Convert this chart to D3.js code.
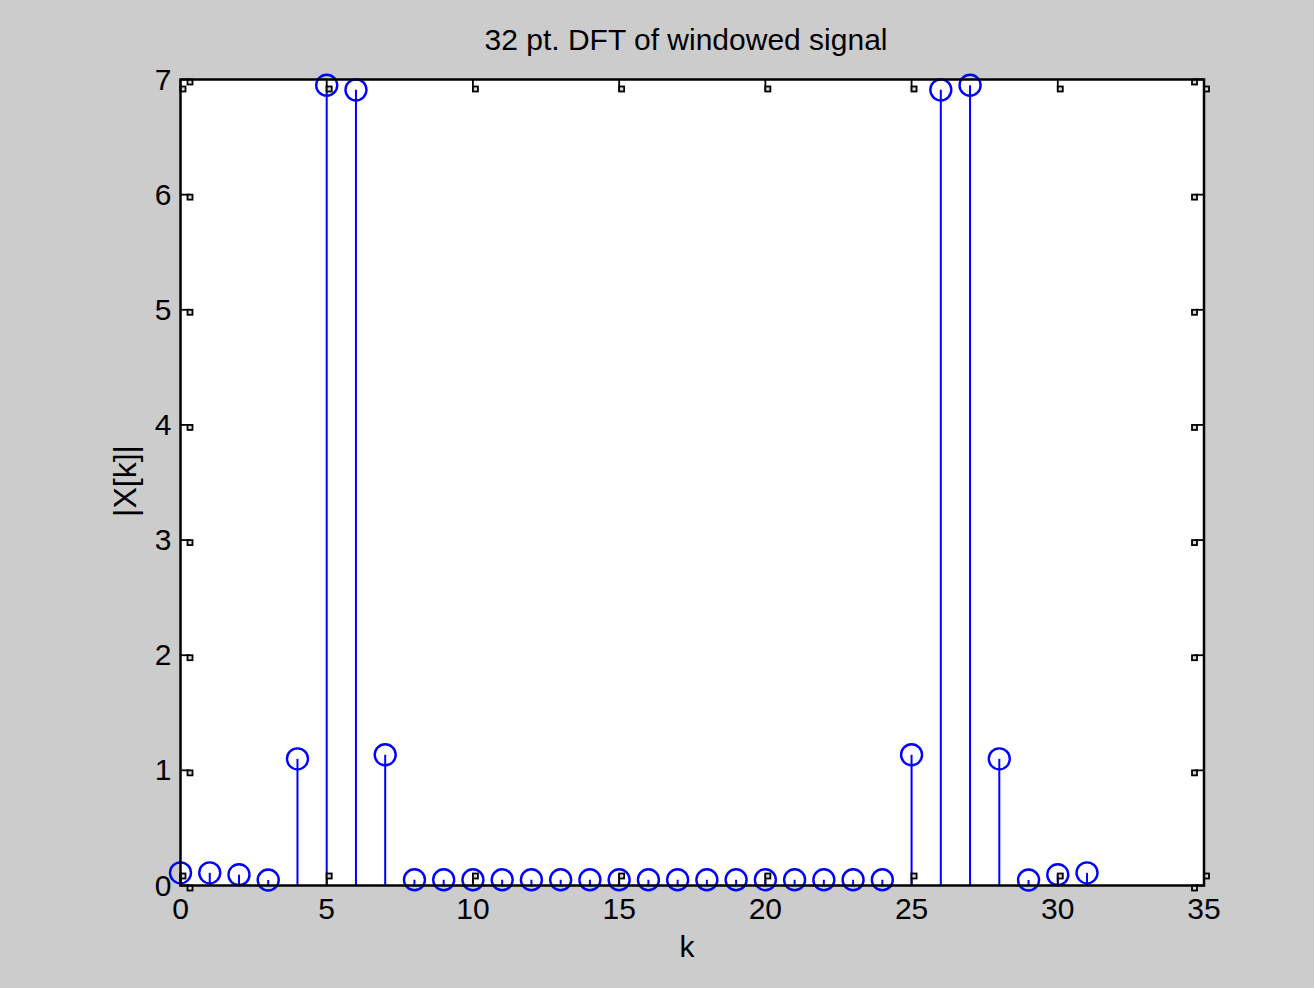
<!DOCTYPE html>
<html>
<head>
<meta charset="utf-8">
<script src="https://cdn.jsdelivr.net/npm/d3@7"></script>
<style>
  html, body { margin: 0; padding: 0; background: #cccccc; }
  svg { display: block; }
  text { font-family: "Liberation Sans", Arial, sans-serif; fill: #000; }
</style>
</head>
<body>
<svg id="chart" width="1314" height="988"></svg>
<script>
// Magnitude of the 32-point DFT of the windowed signal
const k = d3.range(0, 32);
const magnitude = [
  0.11, 0.11, 0.094, 0.048, 1.10, 6.95, 6.91, 1.135,
  0.05, 0.05, 0.05, 0.05, 0.05, 0.05, 0.05, 0.05,
  0.05, 0.05, 0.05, 0.05, 0.05, 0.05, 0.05, 0.05,
  0.05, 1.135, 6.91, 6.95, 1.10, 0.048, 0.094, 0.11
];
const xTicks = [0, 5, 10, 15, 20, 25, 30, 35];
const yTicks = [0, 1, 2, 3, 4, 5, 6, 7];
const titleText = "32 pt. DFT of windowed signal";
const xLabelText = "k";
const yLabelText = "|X[k]|";

const svg = d3.select("#chart");
const W = 1314, H = 988;
const box = { left: 180.5, right: 1204, top: 79.5, bottom: 885.5 };

const x = d3.scaleLinear().domain([0, 35]).range([box.left, box.right]);
const y = d3.scaleLinear().domain([0, 7]).range([box.bottom, box.top]);

svg.append("rect").attr("width", W).attr("height", H).attr("fill", "#cccccc");

// white axes area
svg.append("rect")
  .attr("x", box.left).attr("y", box.top)
  .attr("width", box.right - box.left).attr("height", box.bottom - box.top)
  .attr("fill", "#ffffff");

// stems and circle markers
const stemColor = "#0000ff";
const g = svg.append("g");
g.selectAll("line.stem").data(k).join("line")
  .attr("class", "stem")
  .attr("x1", d => x(d)).attr("x2", d => x(d))
  .attr("y1", y(0)).attr("y2", d => y(magnitude[d]))
  .attr("stroke", stemColor).attr("stroke-width", 2);
g.selectAll("circle.mark").data(k).join("circle")
  .attr("class", "mark")
  .attr("cx", d => x(d)).attr("cy", d => y(magnitude[d]))
  .attr("r", 10.5)
  .attr("fill", "none").attr("stroke", stemColor).attr("stroke-width", 2.4);

// tick marks: short inward line ending in a small square
const tickG = svg.append("g");
const tl = 9, sq = 5;
function tickMark(x1, y1, x2, y2, rx, ry) {
  tickG.append("line").attr("x1", x1).attr("y1", y1).attr("x2", x2).attr("y2", y2)
    .attr("stroke", "#000").attr("stroke-width", 1.8);
  tickG.append("rect").attr("x", rx).attr("y", ry).attr("width", sq).attr("height", sq)
    .attr("fill", "#d8d8d8").attr("stroke", "#000").attr("stroke-width", 1.8);
}
xTicks.forEach(t => {
  const px = x(t);
  tickMark(px, box.bottom, px, box.bottom - tl - 3, px, box.bottom - tl - 3);
  tickMark(px, box.top, px, box.top + tl + 3, px, box.top + tl - 2);
});
yTicks.forEach(t => {
  const py = y(t);
  tickMark(box.left, py, box.left + tl, py, box.left + tl - 2, py);
  tickMark(box.right, py, box.right - tl, py, box.right - tl - 3, py);
});

// axes border
svg.append("rect")
  .attr("x", box.left).attr("y", box.top)
  .attr("width", box.right - box.left).attr("height", box.bottom - box.top)
  .attr("fill", "none").attr("stroke", "#000").attr("stroke-width", 2.5);

// tick labels
const fs = 30;
svg.append("g").selectAll("text").data(xTicks).join("text")
  .attr("x", d => x(d)).attr("y", box.bottom + 33)
  .attr("text-anchor", "middle").attr("font-size", fs)
  .text(d => d);
svg.append("g").selectAll("text").data(yTicks).join("text")
  .attr("x", box.left - 9).attr("y", d => y(d) + 10)
  .attr("text-anchor", "end").attr("font-size", fs)
  .text(d => d);

// title and axis labels
svg.append("text").attr("x", 686).attr("y", 50)
  .attr("text-anchor", "middle").attr("font-size", 30).text(titleText);
svg.append("text").attr("x", 687).attr("y", 957)
  .attr("text-anchor", "middle").attr("font-size", 30).text(xLabelText);
svg.append("text")
  .attr("transform", `translate(136, 481) rotate(-90)`)
  .attr("text-anchor", "middle").attr("font-size", 32).text(yLabelText);
</script>
</body>
</html>
